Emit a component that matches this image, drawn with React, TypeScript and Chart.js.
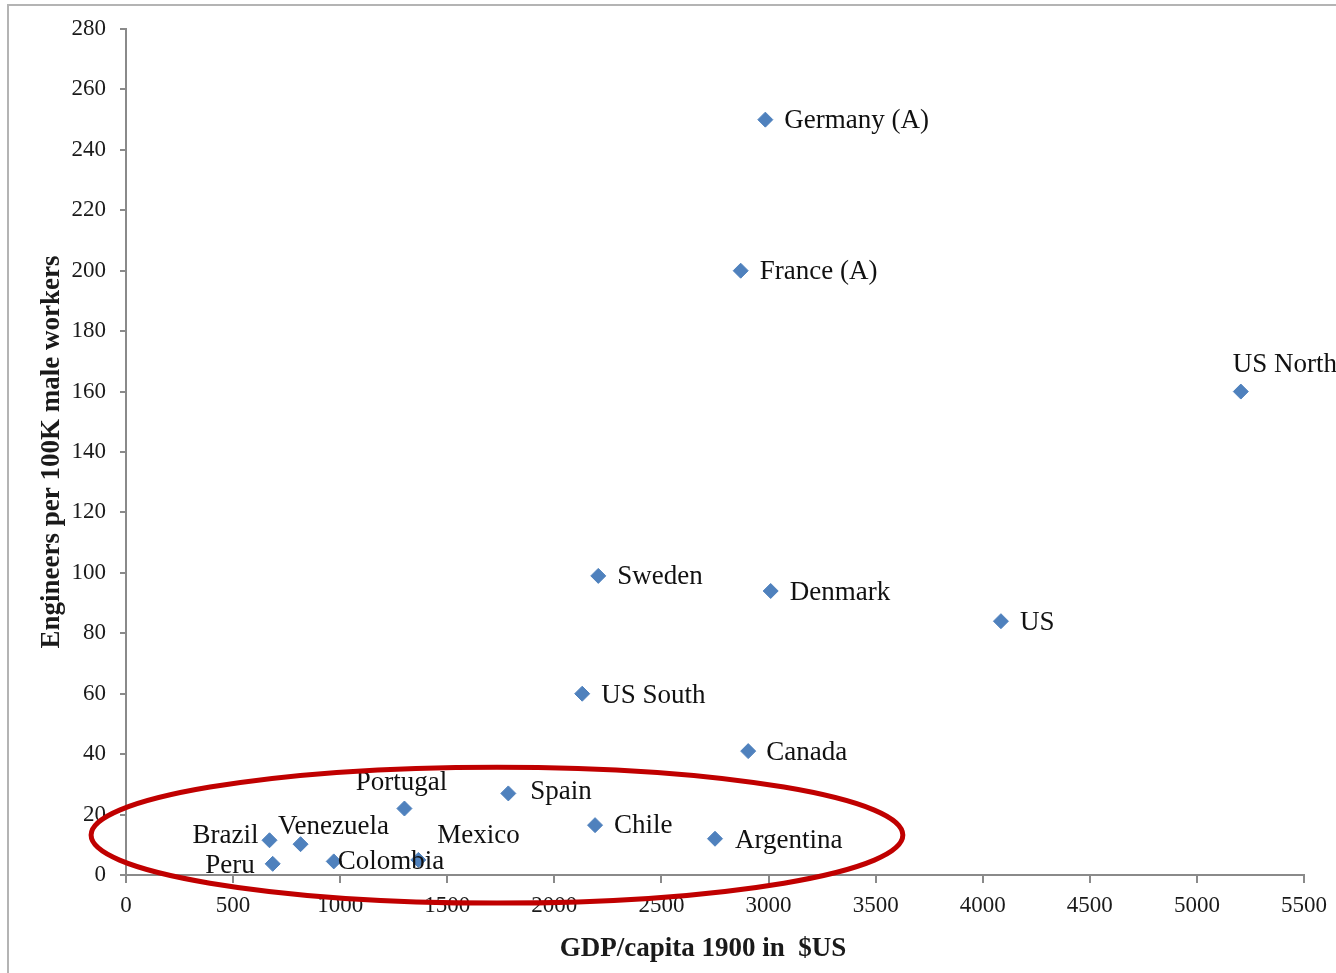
import React, { useEffect, useRef } from "react";
import { Chart, registerables } from "chart.js";

Chart.register(...registerables);

// ---- data ----
const countries = [
  "Germany (A)",
  "France (A)",
  "US North",
  "Sweden",
  "Denmark",
  "US",
  "US South",
  "Canada",
  "Spain",
  "Portugal",
  "Chile",
  "Argentina",
  "Brazil",
  "Venezuela",
  "Peru",
  "Colombia",
  "Mexico",
];
const gdpPerCapita1900 = [2985, 2870, 5205, 2205, 3010, 4085, 2130, 2905, 1785, 1300, 2190, 2750, 670, 815, 685, 970, 1365];
const engineersPer100K = [250, 200, 160, 99, 94, 84, 60, 41, 27, 22, 16.5, 12, 11.5, 10.2, 3.7, 4.5, 5];
const xTickValues = [0, 500, 1000, 1500, 2000, 2500, 3000, 3500, 4000, 4500, 5000, 5500];
const yTickValues = [0, 20, 40, 60, 80, 100, 120, 140, 160, 180, 200, 220, 240, 260, 280];
const xTitle = "GDP/capita 1900 in  $US";
const yTitle = "Engineers per 100K male workers";
// highlight ellipse: centre x, centre y, radius x, radius y (data units)
const highlightEllipse = [1732, 13.2, 1895, 22.5];

// ---- label placement (style) ----
type Place = { align: CanvasTextAlign; dx: number; dy: number };
const labelPlacement: Place[] = [
  { align: "left", dx: 19, dy: 1 },
  { align: "left", dx: 19, dy: 1 },
  { align: "left", dx: -8, dy: -27 },
  { align: "left", dx: 19, dy: 1 },
  { align: "left", dx: 19, dy: 2 },
  { align: "left", dx: 19, dy: 2 },
  { align: "left", dx: 19, dy: 2 },
  { align: "left", dx: 18, dy: 2 },
  { align: "left", dx: 22, dy: -2 },
  { align: "center", dx: -3, dy: -26 },
  { align: "left", dx: 19, dy: 1 },
  { align: "left", dx: 20, dy: 2 },
  { align: "right", dx: -11, dy: -4 },
  { align: "center", dx: 33, dy: -17 },
  { align: "right", dx: -18, dy: 2 },
  { align: "left", dx: 4, dy: 1 },
  { align: "left", dx: 19, dy: -24 },
];

const SERIF = '"Liberation Serif", "Times New Roman", serif';
const AXIS_GRAY = "#8a8a8a";
const TEXT = "#1a1a1a";

const overlayPlugin = {
  id: "overlay",
  afterDraw(chart: any) {
    const ctx: CanvasRenderingContext2D = chart.ctx;
    const meta = chart.getDatasetMeta(0);
    const xs = chart.scales.x;
    const ys = chart.scales.y;
    ctx.save();
    // x-axis title (Excel places it slightly left of the plot centre)
    ctx.font = `bold 27px ${SERIF}`;
    ctx.fillStyle = TEXT;
    ctx.textAlign = "center";
    ctx.textBaseline = "middle";
    ctx.fillText(xTitle, (xs.left + xs.right) / 2 - 12, xs.bottom - 24);
    // data labels
    ctx.font = `27px ${SERIF}`;
    ctx.fillStyle = "#111";
    meta.data.forEach((pt: any, i: number) => {
      const p = labelPlacement[i];
      ctx.textAlign = p.align;
      ctx.fillText(countries[i], pt.x + p.dx, pt.y + p.dy);
    });
    // highlight ellipse
    const [ecx, ecy, erx, ery] = highlightEllipse;
    const cx = xs.getPixelForValue(ecx);
    const cy = ys.getPixelForValue(ecy);
    const rx = xs.getPixelForValue(ecx + erx) - cx;
    const ry = cy - ys.getPixelForValue(ecy + ery);
    ctx.beginPath();
    ctx.ellipse(cx, cy, rx, ry, 0, 0, Math.PI * 2);
    ctx.lineWidth = 5;
    ctx.strokeStyle = "#C00000";
    ctx.stroke();
    ctx.restore();
  },
};

export default function App() {
  const ref = useRef<HTMLCanvasElement | null>(null);

  useEffect(() => {
    if (!ref.current) return;
    const chart = new Chart(ref.current, {
      type: "scatter",
      data: {
        datasets: [
          {
            label: "Engineers",
            data: gdpPerCapita1900.map((x, i) => ({ x, y: engineersPer100K[i] })),
            pointStyle: "rectRot",
            pointRadius: 7.5,
            pointHoverRadius: 7.5,
            backgroundColor: "#4F81BD",
            borderColor: "#4F81BD",
            borderWidth: 1,
          },
        ],
      },
      options: {
        responsive: false,
        animation: false,
        events: [],
        layout: { padding: { left: 0, top: 29, right: 32, bottom: 0 } },
        plugins: {
          legend: { display: false },
          tooltip: { enabled: false },
        },
        scales: {
          x: {
            type: "linear",
            min: 0,
            max: 5500,
            afterBuildTicks: (s: any) => {
              s.ticks = xTickValues.map((v) => ({ value: v }));
            },
            afterFit: (s: any) => {
              s.height = 98;
            },
            grid: {
              drawOnChartArea: false,
              drawTicks: true,
              tickLength: 8,
              color: AXIS_GRAY,
              lineWidth: 2,
            },
            border: { color: AXIS_GRAY, width: 2 },
            ticks: {
              padding: 9,
              color: TEXT,
              font: { family: SERIF, size: 23 },
              maxRotation: 0,
              autoSkip: false,
              callback: (v: any) => String(v),
            },
            title: { display: false },
          },
          y: {
            type: "linear",
            min: 0,
            max: 280,
            afterBuildTicks: (s: any) => {
              s.ticks = yTickValues.map((v) => ({ value: v }));
            },
            afterFit: (s: any) => {
              s.width = 126;
            },
            grid: {
              drawOnChartArea: false,
              drawTicks: true,
              tickLength: 6,
              color: AXIS_GRAY,
              lineWidth: 2,
            },
            border: { color: AXIS_GRAY, width: 2 },
            ticks: {
              padding: 14,
              color: TEXT,
              font: { family: SERIF, size: 23 },
              autoSkip: false,
              callback: (v: any) => String(v),
            },
            title: {
              display: true,
              text: yTitle,
              color: TEXT,
              font: { family: SERIF, size: 27, weight: "bold" },
              padding: { top: 36, bottom: 0 },
            },
          },
        },
      },
      plugins: [overlayPlugin],
    } as any);
    return () => chart.destroy();
  }, []);

  return (
    <div
      style={{
        position: "fixed",
        left: 0,
        top: 0,
        width: 1336,
        height: 973,
        overflow: "hidden",
        background: "#fff",
      }}
    >
      <div
        style={{
          position: "absolute",
          left: 7,
          top: 4,
          width: 1400,
          height: 1100,
          borderLeft: "2px solid #b4b4b4",
          borderTop: "2px solid #b4b4b4",
        }}
      />
      <canvas
        ref={ref}
        width={1336}
        height={973}
        style={{ position: "absolute", left: 0, top: 0, width: 1336, height: 973 }}
      />
    </div>
  );
}
